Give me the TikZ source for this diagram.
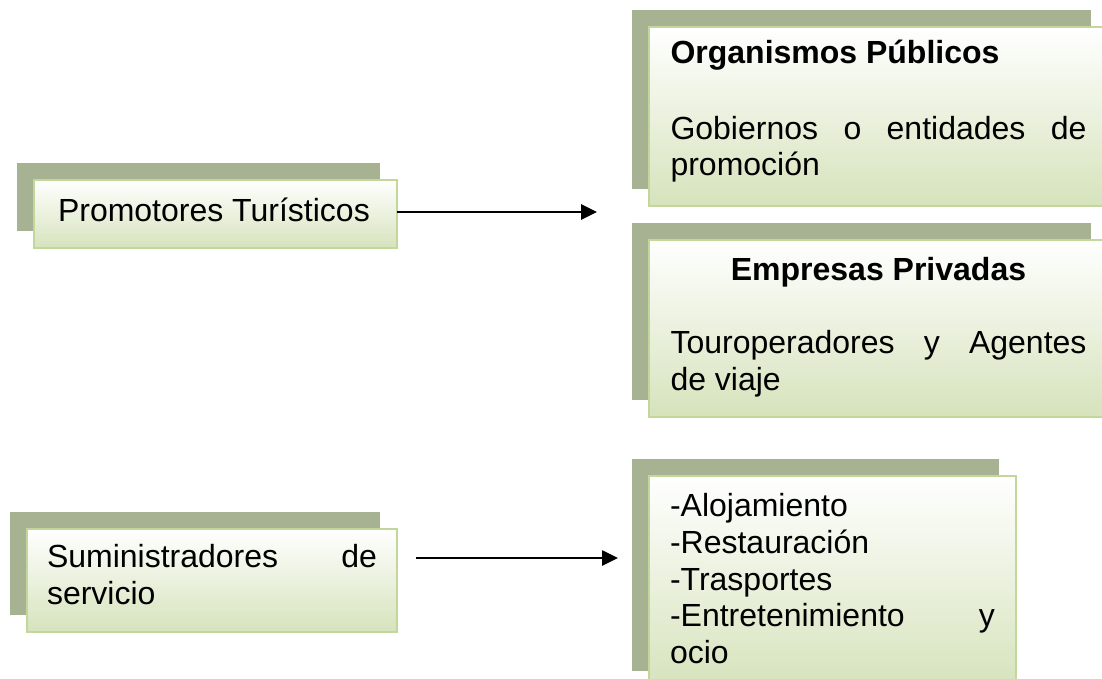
\documentclass[tikz,border=0pt]{standalone}
\usepackage{fontspec}
\setmainfont{Liberation Sans}
\usetikzlibrary{shadows,arrows.meta}
\definecolor{boxborder}{RGB}{195,214,155}
\definecolor{boxbottom}{RGB}{214,227,188}
\definecolor{boxshadow}{RGB}{166,178,146}

\begin{document}
\begin{tikzpicture}[x=1pt, y=-1pt,
    box/.style={draw=boxborder, line width=2pt, top color=white, bottom color=boxbottom,
      general shadow={fill=boxshadow, shadow xshift=-17pt, shadow yshift=17pt},
      anchor=north west, outer sep=0pt, inner ysep=0pt, align=justify,
      font=\fontsize{32}{36.7}\selectfont},
    conn/.style={line width=2.6pt, -{Triangle[length=16pt,width=15pt]}}]
      \useasboundingbox (0,0) rectangle (1102,679);

      % left boxes
      \node (P) [box, text width=315pt, inner xsep=24pt, text height=42pt, text depth=26pt]
          at (34,180) {Promotores Turísticos};
      \node (S) [box, text width=330pt, inner xsep=20pt, text height=38.7pt, text depth=64.3pt]
          at (27,529) {Suministradores de\linebreak servicio};

      % right boxes
      \node (O) [box, text width=416pt, inner xsep=21.5pt, text height=36.3pt, text depth=142.7pt]
          at (649,27) {\textbf{Organismos Públicos}\par\vspace{39.3pt}Gobiernos o entidades de\linebreak promoción};
      \node (E) [box, text width=416pt, inner xsep=21.5pt, text height=40pt, text depth=137pt]
          at (649,240) {\makebox[\linewidth]{\textbf{Empresas Privadas}}\par\vspace{36.6pt}Touroperadores y Agentes\linebreak de viaje};
      \node (A) [box, text width=325pt, inner xsep=21pt, text height=40.7pt, text depth=171.3pt]
          at (649,476) {-Alojamiento\\ -Restauración\\ -Trasportes\\ -Entretenimiento y\linebreak ocio};

      % arrows
      \coordinate (Y1) at (0,212);
      \coordinate (Y2) at (0,558);
      \draw [conn, shorten >=52pt] (P.east |- Y1) -- (O.west |- Y1);
      \draw [conn, shorten <=19pt, shorten >=31pt] (S.east |- Y2) -- (A.west |- Y2);
\end{tikzpicture}
\end{document}
